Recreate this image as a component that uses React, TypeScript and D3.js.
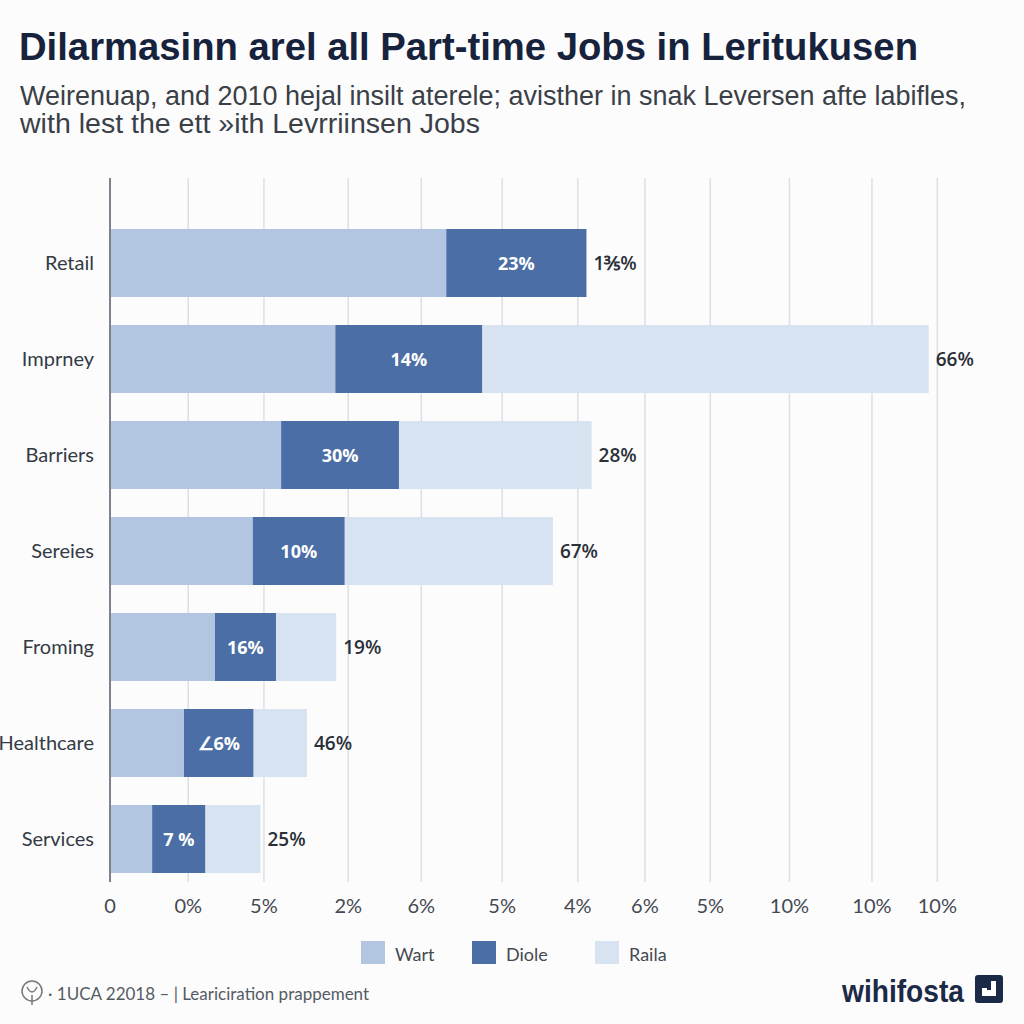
import React from "react";
import * as d3 from "d3";

const categories = ["Retail", "Imprney", "Barriers", "Sereies", "Froming", "Healthcare", "Services"];
const wartValues = [39.1, 26.2, 19.9, 16.6, 12.2, 8.6, 4.9];
const dioleValues = [16.3, 17.1, 13.7, 10.7, 7.1, 8.1, 6.2];
const railaValues = [0, 51.9, 22.4, 24.2, 7.0, 6.2, 6.4];
const dioleLabels = ["23%", "14%", "30%", "10%", "16%", "\u22206%", "7 %"];
const endLabels = ["1\u2157%", "66%", "28%", "67%", "19%", "46%", "25%"];
const gridValues = [0, 9.1, 17.9, 27.7, 36.2, 45.6, 54.4, 62.2, 69.8, 79.0, 88.6, 96.2];
const tickLabels = ["0", "0%", "5%", "2%", "6%", "5%", "4%", "6%", "5%", "10%", "10%", "10%"];
const seriesKeys = ["Wart", "Diole", "Raila"];
const seriesColors = ["#b2c6e1", "#4a6ea5", "#d7e3f1"];

const title = "Dilarmasinn arel all Part-time Jobs in Leritukusen";
const subtitle1 = "Weirenuap, and 2010 hejal insilt aterele; avisther in snak Leversen afte labifles,";
const subtitle2 = "with lest the ett \u00bbith Levrriinsen Jobs";
const footerText = "\u00b7 1UCA 22018 \u2013 | Leariciration prappement";
const brand = "wihifosta";

export default function App() {
  const x = d3.scaleLinear().domain([0, 100]).range([110, 970]);
  const y = d3.scaleBand<string>().domain(categories).range([201, 901]).padding(0.2917);
  const rows = categories.map((c, i) => ({ cat: c, Wart: wartValues[i], Diole: dioleValues[i], Raila: railaValues[i] }));
  const stacked = d3.stack<any>().keys(seriesKeys)(rows);
  const color = d3.scaleOrdinal<string, string>().domain(seriesKeys).range(seriesColors);
  const bw = y.bandwidth();
  const font = "Lato, 'Open Sans', sans-serif";

  return (
    <svg width={1024} height={1024} style={{ position: "absolute", left: 0, top: 0, background: "#fcfcfc" }}>
      <rect x={0} y={0} width={1024} height={1024} fill="#fcfcfc" />
      <text x={19} y={60} fontFamily="'Liberation Sans', Arial, sans-serif" fontWeight={700} fontSize={39} fill="#17233d" textLength={899} lengthAdjust="spacingAndGlyphs">{title}</text>
      <text x={20} y={105} fontFamily="'Liberation Sans', Arial, sans-serif" fontSize={27} fill="#3a3f48" textLength={946} lengthAdjust="spacingAndGlyphs">{subtitle1}</text>
      <text x={20} y={133} fontFamily="'Liberation Sans', Arial, sans-serif" fontSize={27} fill="#3a3f48" textLength={460} lengthAdjust="spacingAndGlyphs">{subtitle2}</text>

      {gridValues.slice(1).map((g, i) => (
        <line key={"g" + i} x1={x(g)} x2={x(g)} y1={178} y2={882} stroke="#dcdfe4" strokeWidth={1.5} />
      ))}

      {stacked.map((s) => (
        <g key={s.key}>
          {s.map((d, i) => (d[1] - d[0] > 0 ? (
            <rect key={i} x={x(d[0])} y={y(categories[i])!} width={x(d[1]) - x(d[0])} height={bw} fill={color(s.key)} />
          ) : null))}
        </g>
      ))}

      <line x1={x(0)} x2={x(0)} y1={178} y2={882} stroke="#7d828b" strokeWidth={2} />

      {categories.map((c, i) => {
        const cy = y(c)! + bw / 2;
        const d = stacked[1][i];
        const end = stacked[2][i][1];
        return (
          <g key={c}>
            <text x={94} y={cy + 7} textAnchor="end" fontFamily={font} fontSize={20} fill="#333a44">{c}</text>
            <text x={(x(d[0]) + x(d[1])) / 2} y={cy + 7} textAnchor="middle" fontFamily="'Open Sans', sans-serif" fontWeight={700} fontSize={18} fill="#ffffff">{dioleLabels[i]}</text>
            <text x={x(end) + 7} y={cy + 7} fontFamily="'Open Sans', sans-serif" fontWeight={600} fontSize={19} fill="#2a2f38">{endLabels[i]}</text>
          </g>
        );
      })}

      {gridValues.map((g, i) => (
        <text key={"t" + i} x={x(g)} y={913} textAnchor="middle" fontFamily={font} fontSize={20} fill="#444a52">{tickLabels[i]}</text>
      ))}

      {seriesKeys.map((k, i) => {
        const lx = [361, 472, 595][i];
        return (
          <g key={k}>
            <rect x={lx} y={941} width={24} height={23} fill={color(k)} />
            <text x={lx + 34} y={961} fontFamily={font} fontSize={18} fill="#444a52">{k}</text>
          </g>
        );
      })}

      <g transform="translate(32,993)" fill="none" stroke="#777" strokeWidth={1.5}>
        <circle cx={0} cy={-2} r={10} />
        <path d="M-5,-6 Q0,4 5,-6 M0,2 L0,12" />
      </g>
      <text x={48} y={1000} fontFamily={font} fontSize={17} fill="#555b63">{footerText}</text>

      <text x={842} y={1002} fontFamily="'Liberation Sans', Arial, sans-serif" fontWeight={700} fontSize={32} fill="#1b2a47" textLength={122} lengthAdjust="spacingAndGlyphs">{brand}</text>
      <rect x={975} y={975} width={28} height={28} rx={3} fill="#1b2a47" />
      <path d="M982,988 L982,996 L996,996 L996,981 L991,981 L991,990 L987,990 L987,988 Z" fill="#ffffff" />
    </svg>
  );
}
